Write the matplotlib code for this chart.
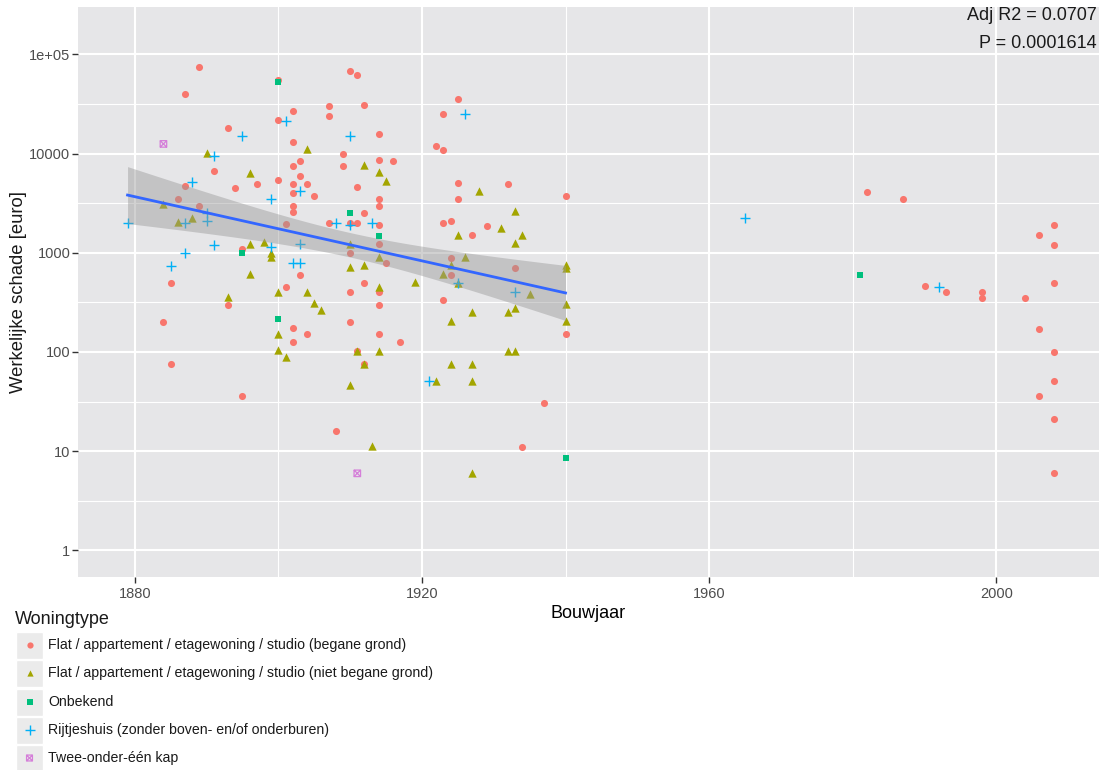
import numpy as np
import matplotlib
matplotlib.use("Agg")
import matplotlib.pyplot as plt
from matplotlib.path import Path
from matplotlib.patches import Rectangle

plt.rcParams['font.family'] = ['Liberation Sans', 'DejaVu Sans']

# ---------------- data (Bouwjaar, Werkelijke schade [euro]) ----------------
cat_names = [
    "Flat / appartement / etagewoning / studio (begane grond)",
    "Flat / appartement / etagewoning / studio (niet begane grond)",
    "Onbekend",
    "Rijtjeshuis (zonder boven- en/of onderburen)",
    "Twee-onder-één kap",
]

flat_bg_year = [1889, 1887, 1900, 1910, 1902, 1900, 1907, 1907, 1893, 1902,
                1909, 1909, 1891, 1903, 1902, 1903, 1900, 1902, 1904, 1902,
                1905, 1897, 1894, 1887, 1886, 1889, 1902, 1902, 1901, 1907,
                1910, 1895, 1903, 1885, 1901, 1893, 1910, 1884, 1910, 1902,
                1904, 1902, 1885, 1895, 1908, 1911, 1912, 1914, 1914, 1916,
                1911, 1914, 1914, 1912, 1911, 1914, 1914, 1910, 1915, 1912,
                1914, 1925, 1923, 1922, 1923, 1925, 1925, 1932, 1940, 1923,
                1924, 1927, 1929, 1924, 1924, 1933, 1923, 1914, 1940, 1914,
                1917, 1911, 1912, 1937, 1934, 1982, 1987, 2008, 2006, 2008,
                2008, 1990, 1993, 1998, 1998, 2004, 2006, 2008, 2008, 2006,
                2008, 2008]
flat_bg_val = [74500, 39500, 55000, 68000, 27000, 21800, 29900, 23700, 17900, 13150,
               9950, 7430, 6720, 8340, 7430, 5970, 5400, 4960, 4960, 3970,
               3730, 4960, 4490, 4700, 3480, 2980, 2980, 2570, 1930, 1990,
               1990, 1090, 595, 500, 448, 299, 398, 200, 200, 175,
               150, 125, 75.5, 35.7, 16.0, 61400, 30600, 15800, 8660, 8340,
               4550, 3470, 2980, 2500, 1990, 1890, 1230, 986, 795, 499,
               398, 35200, 25200, 12000, 10900, 5050, 3470, 4960, 3730, 2000,
               2100, 1510, 1840, 890, 596, 706, 330, 299, 150, 150,
               125, 103, 76, 30.8, 11.0, 4070, 3480, 1900, 1500, 1190,
               499, 459, 398, 398, 352, 352, 170, 100, 51, 35.7,
               20.9, 6.0]

flat_nbg_year = [1904, 1890, 1896, 1884, 1886, 1888, 1898, 1896, 1899, 1899,
                 1896, 1900, 1904, 1893, 1905, 1906, 1900, 1900, 1901, 1910,
                 1912, 1914, 1915, 1910, 1914, 1910, 1912, 1914, 1919, 1928,
                 1933, 1925, 1931, 1934, 1933, 1926, 1924, 1923, 1925, 1935,
                 1940, 1940, 1940, 1940, 1932, 1933, 1927, 1924, 1911, 1914,
                 1932, 1933, 1912, 1924, 1927, 1922, 1927, 1913, 1927]
flat_nbg_val = [11100, 10100, 6310, 3080, 2040, 2250, 1270, 1220, 985, 900,
                610, 405, 405, 360, 309, 262, 152, 104, 88, 46.5,
                7600, 6460, 5280, 1230, 906, 718, 757, 454, 511, 4160,
                2630, 1510, 1760, 1510, 1250, 906, 752, 610, 500, 380,
                760, 700, 304, 204, 254, 279, 254, 204, 103, 103,
                103, 103, 76, 76, 76, 51, 51, 11.2, 6.05]

onbekend_year = [1900, 1910, 1914, 1895, 1900, 1940, 1981]
onbekend_val = [52000, 2500, 1470, 1000, 215, 8.45, 596]

rijtjes_year = [1901, 1895, 1910, 1891, 1888, 1903, 1899, 1890, 1890, 1887,
                1879, 1908, 1910, 1913, 1903, 1891, 1899, 1887, 1885, 1902,
                1903, 1926, 1925, 1933, 1921, 1965, 1992]
rijtjes_val = [21100, 14900, 14900, 9450, 5200, 4220, 3450, 2500, 2100, 1990,
               1990, 1990, 1890, 1990, 1230, 1190, 1150, 986, 740, 787,
               787, 24800, 500, 398, 51, 2220, 448]

twee_year = [1884, 1911]
twee_val = [12500, 5.97]

fit_max_year = 1940
stats_text = ["Adj R2 = 0.0707", "P = 0.0001614"]

x_ticks = [1880, 1920, 1960, 2000]
y_ticks = [1, 10, 100, 1000, 10000, 100000]
y_ticklabels = ["1", "10", "100", "1000", "10000", "1e+05"]

# ---------------- style ----------------
cols = ["#F8766D", "#A3A500", "#00BF7D", "#00B0F6", "#D57FD9"]
sq_cross = Path([(-1, -1), (1, -1), (1, 1), (-1, 1), (-1, -1),
                 (-1, -1), (1, 1), (-1, 1), (1, -1)],
                [Path.MOVETO, Path.LINETO, Path.LINETO, Path.LINETO, Path.CLOSEPOLY,
                 Path.MOVETO, Path.LINETO, Path.MOVETO, Path.LINETO])

W, H = 1114, 770
fig = plt.figure(figsize=(W / 100, H / 100), dpi=100)
L, R, T, B = 78, 1099, 7, 577
ax = fig.add_axes([L / W, 1 - B / H, (R - L) / W, (B - T) / H])
ax.set_facecolor("#E6E6E8")
ax.set_yscale("log")
ax.set_xlim(1872.1, 2014.3)
ax.set_ylim(10 ** -0.269, 10 ** 5.477)

for s in ax.spines.values():
    s.set_visible(False)

# grid
for xv in [1900, 1940, 1980]:
    ax.axvline(xv, color="white", lw=0.8, zorder=0)
for xv in x_ticks:
    ax.axvline(xv, color="white", lw=1.5, zorder=0)
for e in np.arange(-0.5, 5.5, 1.0):
    if -0.269 < e < 5.477:
        ax.axhline(10 ** e, color="white", lw=0.8, zorder=0)
for yv in y_ticks:
    ax.axhline(yv, color="white", lw=1.5, zorder=0)

ax.set_xticks(x_ticks)
ax.set_xticklabels([str(v) for v in x_ticks])
ax.set_yticks(y_ticks)
ax.set_yticklabels(y_ticklabels)
ax.minorticks_off()
ax.tick_params(axis="both", length=4, width=1, color="#333333",
               labelcolor="#4D4D4D", labelsize=10.5)
ax.tick_params(axis="y", pad=1.5)
ax.tick_params(axis="x", pad=3)
ax.set_xlabel("Bouwjaar", fontsize=13, labelpad=3)

# points
ax.scatter(flat_bg_year, flat_bg_val, marker="o", s=26, color=cols[0], lw=0, zorder=2)
ax.scatter(flat_nbg_year, flat_nbg_val, marker="^", s=36, color=cols[1], lw=0, zorder=2)
ax.scatter(onbekend_year, onbekend_val, marker="s", s=20, color=cols[2], lw=0, zorder=2)
ax.scatter(rijtjes_year, rijtjes_val, marker="+", s=60, color=cols[3], lw=1.0, zorder=2)
ax.scatter(twee_year, twee_val, marker=sq_cross, s=22, facecolors="none",
           edgecolors=cols[4], lw=0.9, zorder=2)

# linear fit on log10 scale (data up to fit_max_year)
all_x = np.array(flat_bg_year + flat_nbg_year + onbekend_year + rijtjes_year + twee_year, float)
all_y = np.log10(np.array(flat_bg_val + flat_nbg_val + onbekend_val + rijtjes_val + twee_val, float))
m = all_x <= fit_max_year
xs, ys = all_x[m], all_y[m]
n = len(xs)
b1, b0 = np.polyfit(xs, ys, 1)
res = ys - (b0 + b1 * xs)
s_err = np.sqrt(np.sum(res ** 2) / (n - 2))
xg = np.linspace(xs.min(), xs.max(), 80)
yg = b0 + b1 * xg
se = s_err * np.sqrt(1 / n + (xg - xs.mean()) ** 2 / np.sum((xs - xs.mean()) ** 2))
tq = 1.973
ax.fill_between(xg, 10 ** (yg - tq * se), 10 ** (yg + tq * se), color="#999999",
                alpha=0.45, lw=0, zorder=3)
ax.plot(xg, 10 ** yg, color="#3366FF", lw=2.0, zorder=4)

ax.text(0.998, (B - 16) / (B - T), stats_text[0], transform=ax.transAxes, ha="right",
        va="center", fontsize=13, color="#1A1A1A")
ax.text(0.998, (B - 43) / (B - T), stats_text[1], transform=ax.transAxes, ha="right",
        va="center", fontsize=13, color="#1A1A1A")

# overlay in pixel coordinates: y title + legend
lg = fig.add_axes([0, 0, 1, 1])
lg.set_xlim(0, W)
lg.set_ylim(H, 0)
lg.axis("off")
lg.patch.set_alpha(0)
lg.text(19, (T + B) / 2, "Werkelijke schade [euro]", fontsize=13.3, rotation=90,
        ha="center", va="center", color="#1A1A1A")
lg.text(15, 619, "Woningtype", fontsize=13, va="center", ha="left", color="#1A1A1A")
ys_leg = [645, 673, 702, 730, 758]
mk = ["o", "^", "s", "+", sq_cross]
for i, (yy, name) in enumerate(zip(ys_leg, cat_names)):
    lg.add_patch(Rectangle((16, yy - 13.5), 27, 27, facecolor="#EBEBEB", edgecolor="white", lw=1))
    if i == 4:
        lg.scatter([29.5], [yy], marker=mk[i], s=18, facecolors="none", edgecolors=cols[i], lw=0.9)
    elif i == 3:
        lg.scatter([29.5], [yy], marker=mk[i], s=50, color=cols[i], lw=1.0)
    else:
        lg.scatter([29.5], [yy], marker=mk[i], s=20, color=cols[i], lw=0)
    lg.text(48, yy, name, fontsize=10.2, va="center", ha="left", color="#1A1A1A")

fig.savefig("out.png", dpi=100, facecolor="white")
